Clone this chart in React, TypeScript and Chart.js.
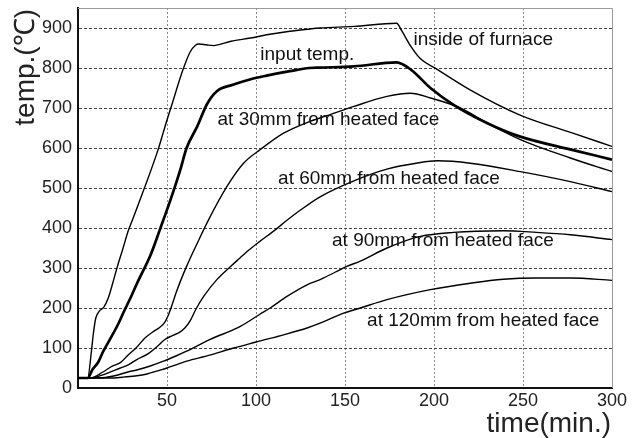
import React, { useEffect, useRef } from 'react';
import { Chart, registerables } from 'chart.js';

Chart.register(...registerables);

// ---- data (time in minutes, temperature in °C) ----
const furnaceTime = [0, 5.5, 7.5, 8.6, 10, 12, 14.5, 17, 19.5, 22, 25, 28, 31, 37, 45, 50, 52, 59, 63, 66, 68, 72, 76, 86, 97, 106, 119, 129, 136, 155, 179, 182, 187, 192, 202, 220, 248, 278, 300];
const furnaceTemp = [25, 26, 90, 135, 175, 192, 202, 225, 262, 302, 345, 390, 425, 496, 596, 670, 698, 796, 840, 857, 860, 858, 856, 867, 875, 883, 892, 897, 900, 904, 912, 892, 854, 825, 796, 746, 683, 637, 604];

const inputTime = [0, 5.5, 8, 11.4, 14, 17, 22.6, 26, 30, 33, 41, 46, 52, 57.5, 61, 67, 72.5, 78, 87, 97, 106, 119, 130, 136, 155, 179, 187, 198, 211, 230, 248, 277, 300];
const inputTemp = [25, 25, 45, 65, 90, 114, 160, 193, 230, 260, 335, 396, 471, 546, 600, 654, 710, 742, 758, 772, 781, 792, 800, 801, 804, 814, 796, 750, 708, 662, 629, 596, 571];

const d30Time = [0, 7, 14, 19, 24, 28, 33, 37.6, 42, 46, 49, 51, 53, 55.5, 61, 67, 73.4, 83.7, 93, 102.4, 115.5, 130, 136, 155, 173.6, 186.7, 198, 214.8, 230, 248.5, 276.6, 300];
const d30Temp = [25, 25, 40, 54, 64, 82, 102, 125, 140, 152, 166, 185, 210, 243, 304, 362, 421, 504, 562, 596, 637, 666, 675, 704, 729, 737, 725, 700, 662, 621, 575, 541];

const d60Time = [0, 8, 11.4, 23.8, 28.3, 33, 39.5, 44, 49, 53, 57, 60, 63, 66, 70.6, 78, 86, 91, 96, 102, 111, 117, 125, 136, 155, 174, 190, 202, 220.4, 248.5, 276.6, 300];
const d60Temp = [25, 25, 29, 50, 58, 71, 86, 102, 122, 131, 139, 150, 168, 195, 229, 271, 305, 325, 345, 366, 396, 418, 445, 478, 518, 548, 562, 568, 562, 541, 516, 491];

const d90Time = [0, 12, 20, 28, 33, 40.6, 48, 55, 61, 74, 87.4, 91.2, 102.4, 108, 117.4, 128.7, 136, 147.4, 151, 158.6, 173.6, 192.3, 211, 239, 257.6, 276.6, 300];
const d90Temp = [25, 25, 30, 40, 45, 55, 67, 80, 92, 121, 146, 154, 185, 200, 229, 258, 271, 296, 304, 317, 350, 379, 389, 393, 389, 383, 371];

const d120Time = [0, 18, 25, 32, 38.8, 44, 50, 55, 61, 74, 87.4, 91.2, 100, 115.5, 128.7, 136, 149.2, 158.6, 173.6, 198, 220.4, 239, 257.6, 276.6, 300];
const d120Temp = [25, 25, 27, 30, 35, 42, 50, 58, 67, 82, 100, 104, 115, 133, 150, 162, 187, 200, 221, 246, 262, 272, 275, 275, 269];

const xTickValues = [0, 50, 100, 150, 200, 250, 300];
const yTickValues = [0, 100, 200, 300, 400, 500, 600, 700, 800, 900];

const curveLabels = ['inside of furnace', 'input temp.', 'at 30mm from heated face', 'at 60mm from heated face', 'at 90mm from heated face', 'at 120mm from heated face'];
const curveLabelTime = [188.5, 102.4, 78.4, 112.4, 142.7, 162.4];
const curveLabelTemp = [858, 821, 658, 511, 356, 156];

const xTitle = 'time(min.)';
const yTitle = 'temp.(℃)';

const zip = (t: number[], v: number[]) => t.map((x, i) => ({ x, y: v[i] }));

const FONT = '"Liberation Sans", Arial, sans-serif';

export default function App() {
  const ref = useRef<HTMLCanvasElement | null>(null);

  useEffect(() => {
    if (!ref.current) return;
    const overlay = {
      id: 'overlay',
      afterDraw(chart: any) {
        const { ctx, chartArea: a, scales } = chart;
        const x = scales.x;
        const y = scales.y;
        ctx.save();
        // top & right frame
        ctx.strokeStyle = '#9a9a9a';
        ctx.lineWidth = 1;
        ctx.setLineDash([]);
        ctx.beginPath();
        ctx.moveTo(a.left, Math.round(a.top) + 0.5);
        ctx.lineTo(Math.round(a.right) + 0.5, Math.round(a.top) + 0.5);
        ctx.lineTo(Math.round(a.right) + 0.5, a.bottom);
        ctx.stroke();
        // curve labels
        ctx.fillStyle = '#111';
        ctx.font = `19px ${FONT}`;
        ctx.textAlign = 'left';
        ctx.textBaseline = 'alphabetic';
        curveLabels.forEach((txt, i) => {
          ctx.fillText(txt, x.getPixelForValue(curveLabelTime[i]), y.getPixelForValue(curveLabelTemp[i]));
        });
        // axis titles
        ctx.fillStyle = '#222';
        ctx.font = `28px ${FONT}`;
        ctx.textAlign = 'right';
        ctx.fillText(xTitle, a.right - 1, 432);
        ctx.translate(34, a.top + 1);
        ctx.rotate(-Math.PI / 2);
        ctx.textAlign = 'right';
        ctx.fillText(yTitle, 0, 0);
        ctx.restore();
      },
    };

    const line = (t: number[], v: number[], w: number) => ({
      data: zip(t, v),
      borderColor: '#000',
      borderWidth: w,
      pointRadius: 0,
      fill: false,
      cubicInterpolationMode: 'monotone' as const,
    });

    const chart = new Chart(ref.current, {
      type: 'line',
      data: {
        datasets: [
          line(furnaceTime, furnaceTemp, 1.4),
          line(inputTime, inputTemp, 2.7),
          line(d30Time, d30Temp, 1.4),
          line(d60Time, d60Temp, 1.4),
          line(d90Time, d90Temp, 1.4),
          line(d120Time, d120Temp, 1.4),
        ] as any,
      },
      options: {
        animation: false,
        responsive: false,
        layout: { padding: { top: 8, right: 28, left: 0, bottom: 0 } },
        plugins: { legend: { display: false }, tooltip: { enabled: false } },
        scales: {
          x: {
            type: 'linear',
            min: 0,
            max: 300,
            afterBuildTicks: (s: any) => {
              s.ticks = xTickValues.map((value) => ({ value }));
            },
            afterFit: (s: any) => {
              s.height = 50;
              s.paddingLeft = 0;
              s.paddingRight = 0;
            },
            ticks: {
              color: '#222',
              font: { size: 18, family: FONT },
              padding: 2,
              maxRotation: 0,
              autoSkip: false,
              callback: (v: any) => (v === 0 ? '' : String(v)),
            },
            grid: {
              drawTicks: false,
              lineWidth: 1,
              color: (c: any) => (c.tick && (c.tick.value === 0 || c.tick.value === 300) ? 'rgba(0,0,0,0)' : '#8a8a8a'),
            },
            border: { display: true, color: '#111', width: 2, dash: [2, 2] },
          },
          y: {
            type: 'linear',
            min: 0,
            max: 950,
            afterBuildTicks: (s: any) => {
              s.ticks = yTickValues.map((value) => ({ value }));
            },
            afterFit: (s: any) => {
              s.width = 78;
              s.paddingTop = 0;
              s.paddingBottom = 0;
            },
            ticks: {
              color: '#222',
              font: { size: 18, family: FONT },
              padding: 6,
              autoSkip: false,
            },
            grid: {
              drawTicks: false,
              lineWidth: 1,
              color: (c: any) => (c.tick && c.tick.value === 0 ? 'rgba(0,0,0,0)' : '#444'),
            },
            border: { display: true, color: '#111', width: 2, dash: [3, 2] },
          },
        },
      } as any,
      plugins: [overlay],
    });
    return () => chart.destroy();
  }, []);

  return (
    <div style={{ position: 'fixed', left: 0, top: 0, width: 640, height: 438, background: '#fff' }}>
      <canvas ref={ref} width={640} height={438} style={{ display: 'block', width: 640, height: 438 }} />
    </div>
  );
}
